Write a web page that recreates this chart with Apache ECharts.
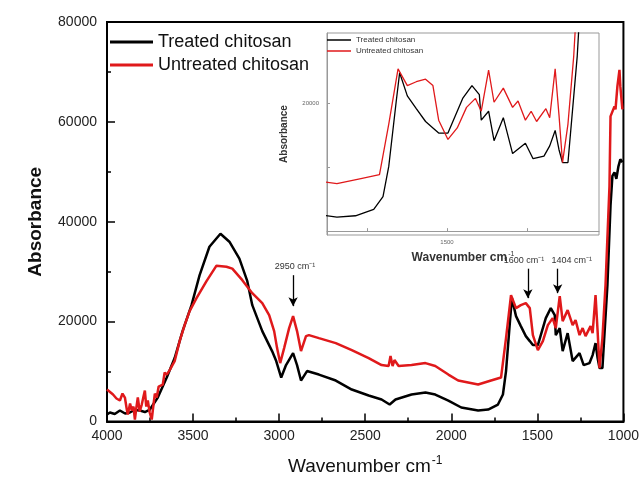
<!DOCTYPE html>
<html>
<head>
<meta charset="utf-8">
<script src="https://cdn.jsdelivr.net/npm/echarts@6/dist/echarts.min.js"></script>
<style>
    html, body { margin: 0; padding: 0; background: #fff; }
    #chart { width: 642px; height: 481px; }
</style>
</head>
<body>
<div id="chart"></div>
<script>
    // [wavenumber (cm-1), absorbance]
    const treatedData = [
        [4000, 1400], [3983, 1800], [3955, 1500], [3925, 2200], [3895, 1600], [3867, 1800], [3840, 2300],
        [3809, 2200], [3780, 1900], [3751, 2400], [3705, 4800], [3653, 8800], [3607, 12700],
        [3561, 18100], [3509, 23300], [3462, 29300], [3405, 35000], [3341, 37600], [3289, 36000],
        [3231, 32600], [3185, 28100], [3156, 23300], [3098, 18100], [3041, 14100], [3017, 12100],
        [2988, 8800], [2960, 11300], [2919, 13700], [2896, 11300], [2873, 8200], [2838, 10100],
        [2769, 9400], [2671, 8200], [2578, 6400], [2480, 5200], [2405, 4400], [2358, 3400],
        [2324, 4400], [2231, 5400], [2150, 5800], [2093, 5400], [2017, 4200], [1942, 2800],
        [1844, 2200], [1786, 2400], [1729, 3400], [1700, 5400], [1682, 10100], [1659, 20100],
        [1648, 24700], [1624, 21100], [1596, 19100], [1567, 17100], [1544, 16100], [1526, 15300],
        [1497, 15300], [1480, 17300], [1451, 20700], [1422, 22700], [1399, 21300], [1393, 17300],
        [1370, 18700], [1353, 14100], [1324, 17700], [1295, 12100], [1255, 13700], [1231, 11300],
        [1197, 11700], [1179, 13300], [1162, 15700], [1150, 12700], [1139, 10700], [1122, 10700],
        [1093, 27300], [1075, 43200], [1064, 49200], [1052, 49900], [1041, 48600], [1029, 51100],
        [1018, 52500], [1006, 51900]
    ];
    const untreatedData = [
        [4000, 6400], [3965, 5400], [3945, 4600], [3925, 4200], [3910, 5600], [3896, 4800],
        [3885, 2400], [3879, 1400], [3866, 3600], [3856, 2200], [3846, 3000], [3838, 400],
        [3830, 2600], [3821, 4800], [3810, 2000], [3798, 3400], [3788, 5000], [3780, 6200],
        [3772, 3000], [3763, 4200], [3752, 1800], [3740, 400], [3734, 2200], [3722, 5600],
        [3711, 4800], [3700, 7000], [3694, 6800], [3676, 7400], [3665, 9800], [3653, 9400],
        [3636, 10300], [3607, 12100], [3578, 16100], [3549, 19300], [3520, 22100], [3480, 24700],
        [3422, 28100], [3364, 31200], [3306, 31000], [3272, 30600], [3214, 28300], [3156, 25700],
        [3098, 23700], [3058, 21300], [3029, 18100], [3012, 14700], [2994, 11700], [2971, 14700],
        [2942, 18700], [2919, 21100], [2896, 18100], [2873, 14100], [2844, 17100], [2827, 17300],
        [2769, 16700], [2671, 15700], [2578, 14300], [2480, 12700], [2405, 11300], [2364, 11100],
        [2353, 13100], [2341, 11100], [2330, 12300], [2306, 11100], [2231, 11300], [2150, 11700],
        [2093, 11100], [2017, 9400], [1960, 8200], [1844, 7400], [1769, 8200], [1711, 8800],
        [1682, 16700], [1653, 25300], [1624, 22700], [1596, 23300], [1567, 23700], [1544, 22700],
        [1526, 17300], [1497, 14300], [1468, 16100], [1439, 19300], [1411, 20700], [1393, 18700],
        [1370, 25100], [1353, 20100], [1324, 22300], [1295, 19300], [1278, 20300], [1255, 17300],
        [1237, 18700], [1220, 17100], [1191, 19100], [1179, 17700], [1162, 25300], [1150, 18100],
        [1139, 10700], [1122, 16700], [1104, 27300], [1081, 47200], [1075, 61100], [1052, 63100],
        [1046, 62500], [1035, 67100], [1023, 70400], [1018, 67100], [1006, 62500]
    ];

    const seriesNames = ['Treated chitosan', 'Untreated chitosan'];
    const xTicks = [4000, 3500, 3000, 2500, 2000, 1500, 1000];
    const yTicks = [0, 20000, 40000, 60000, 80000];
    const insetXTicks = [1750, 1500, 1250];
    const insetXLabels = [1500];
    const insetYTicks = [10000, 20000];
    const insetYLabels = [20000];

    // arrows: [label, wavenumber, start absorbance, end absorbance, label x shift]
    const arrowNotes = [
        ['2950 cm⁻¹', 2919, 29300, 23100, 2],
        ['1600 cm⁻¹', 1555, 30600, 24700, -4],
        ['1404 cm⁻¹', 1382, 30600, 25700, 14]
    ];

    const FONT = 'Liberation Sans, Arial, sans-serif';

    let chart = echarts.init(document.getElementById('chart'));

    let plainNumber = function (v) {
        return String(v);
    };

    let option = {
        animation: false,
        backgroundColor: '#fff',
        color: ['#000000', '#e0191b'],
        legend: [{
            orient: 'vertical',
            left: 110,
            top: 33,
            padding: 0,
            icon: 'rect',
            itemWidth: 43,
            itemHeight: 3,
            itemGap: 5,
            selectedMode: false,
            textStyle: { fontFamily: FONT, fontSize: 18, color: '#111' },
            data: seriesNames
        }, {
            orient: 'vertical',
            left: 327,
            top: 36,
            padding: 0,
            icon: 'rect',
            itemWidth: 24,
            itemHeight: 1.5,
            itemGap: 3,
            selectedMode: false,
            textStyle: { fontFamily: FONT, fontSize: 8, color: '#333' },
            data: seriesNames
        }],
        grid: [{
            left: 107, top: 22, right: 16, bottom: 57,
            show: true, borderColor: '#000', borderWidth: 2
        }, {
            left: 327, top: 33, width: 272, height: 202,
            show: true, borderColor: '#999', borderWidth: 1, backgroundColor: '#fff'
        }],
        xAxis: [{
            gridIndex: 0,
            type: 'value',
            inverse: true,
            min: 1000,
            max: 4000,
            interval: 500,
            name: '{a|Wavenumber cm}{b|-1}',
            nameLocation: 'middle',
            nameGap: 33,
            nameTextStyle: {
                rich: {
                    a: { fontFamily: FONT, fontSize: 19, color: '#111' },
                    b: { fontFamily: FONT, fontSize: 12, color: '#111', padding: [0, 0, 12, 1] }
                }
            },
            axisLine: { lineStyle: { color: '#000', width: 2 } },
            axisTick: { inside: true, length: 8, lineStyle: { color: '#000', width: 1.5 } },
            minorTick: { show: true, splitNumber: 2, length: 4, lineStyle: { color: '#000', width: 1.5 } },
            axisLabel: {
                fontFamily: FONT, fontSize: 14, color: '#222', margin: 8,
                customValues: xTicks, formatter: plainNumber
            },
            splitLine: { show: false }
        }, {
            gridIndex: 1,
            type: 'value',
            inverse: true,
            min: 1025,
            max: 1875,
            name: '{a|Wavenumber cm}{b|-1}',
            nameLocation: 'middle',
            nameGap: 16,
            nameTextStyle: {
                rich: {
                    a: { fontFamily: FONT, fontSize: 12, fontWeight: 'bold', color: '#333' },
                    b: { fontFamily: FONT, fontSize: 7, color: '#333', padding: [0, 0, 7, 1] }
                }
            },
            axisLine: { lineStyle: { color: '#999', width: 1 } },
            axisTick: { inside: true, length: 3, lineStyle: { color: '#999' }, customValues: insetXTicks },
            axisLabel: {
                fontFamily: FONT, fontSize: 6, color: '#666', margin: 4,
                customValues: insetXLabels, formatter: plainNumber
            },
            splitLine: { show: false }
        }],
        yAxis: [{
            gridIndex: 0,
            type: 'value',
            min: 0,
            max: 80000,
            interval: 20000,
            name: 'Absorbance',
            nameLocation: 'middle',
            nameGap: 62,
            nameTextStyle: { fontFamily: FONT, fontSize: 19, fontWeight: 'bold', color: '#111' },
            axisLine: { show: true, lineStyle: { color: '#000', width: 2 } },
            axisTick: { inside: true, length: 8, lineStyle: { color: '#000', width: 1.5 } },
            minorTick: { show: true, splitNumber: 2, length: 4, lineStyle: { color: '#000', width: 1.5 } },
            axisLabel: {
                fontFamily: FONT, fontSize: 14, color: '#222', margin: 10,
                customValues: yTicks, formatter: plainNumber
            },
            splitLine: { show: false }
        }, {
            gridIndex: 1,
            type: 'value',
            min: -600,
            max: 30900,
            name: 'Absorbance',
            nameLocation: 'middle',
            nameGap: 38,
            nameTextStyle: { fontFamily: FONT, fontSize: 10, fontWeight: 'bold', color: '#333' },
            axisLine: { show: true, lineStyle: { color: '#999', width: 1 } },
            axisTick: { inside: true, length: 3, lineStyle: { color: '#999' }, customValues: insetYTicks },
            axisLabel: {
                fontFamily: FONT, fontSize: 6, color: '#666', margin: 8,
                customValues: insetYLabels, formatter: plainNumber
            },
            splitLine: { show: false }
        }],
        series: [{
            name: seriesNames[0],
            type: 'line',
            xAxisIndex: 0,
            yAxisIndex: 0,
            symbol: 'none',
            lineStyle: { width: 2.5, color: '#000000' },
            data: treatedData,
            markLine: {
                silent: true,
                symbol: ['none', 'arrow'],
                symbolSize: [7, 9],
                lineStyle: { color: '#000', width: 1.3, type: 'solid' },
                label: {
                    show: true,
                    position: 'start',
                    distance: 4,
                    fontFamily: FONT,
                    fontSize: 9,
                    color: '#333',
                    formatter: function (p) { return p.name; }
                },
                data: arrowNotes.map(function (a) {
                    return [
                        { name: a[0], coord: [a[1], a[2]], label: { offset: [a[4], 0] } },
                        { coord: [a[1], a[3]] }
                    ];
                })
            }
        }, {
            name: seriesNames[1],
            type: 'line',
            xAxisIndex: 0,
            yAxisIndex: 0,
            symbol: 'none',
            lineStyle: { width: 2.5, color: '#e0191b' },
            data: untreatedData
        }, {
            name: seriesNames[0],
            type: 'line',
            xAxisIndex: 1,
            yAxisIndex: 1,
            symbol: 'none',
            clip: true,
            lineStyle: { width: 1.3, color: '#000000' },
            data: treatedData
        }, {
            name: seriesNames[1],
            type: 'line',
            xAxisIndex: 1,
            yAxisIndex: 1,
            symbol: 'none',
            clip: true,
            lineStyle: { width: 1.3, color: '#e0191b' },
            data: untreatedData
        }]
    };

    chart.setOption(option);
</script>
</body>
</html>
